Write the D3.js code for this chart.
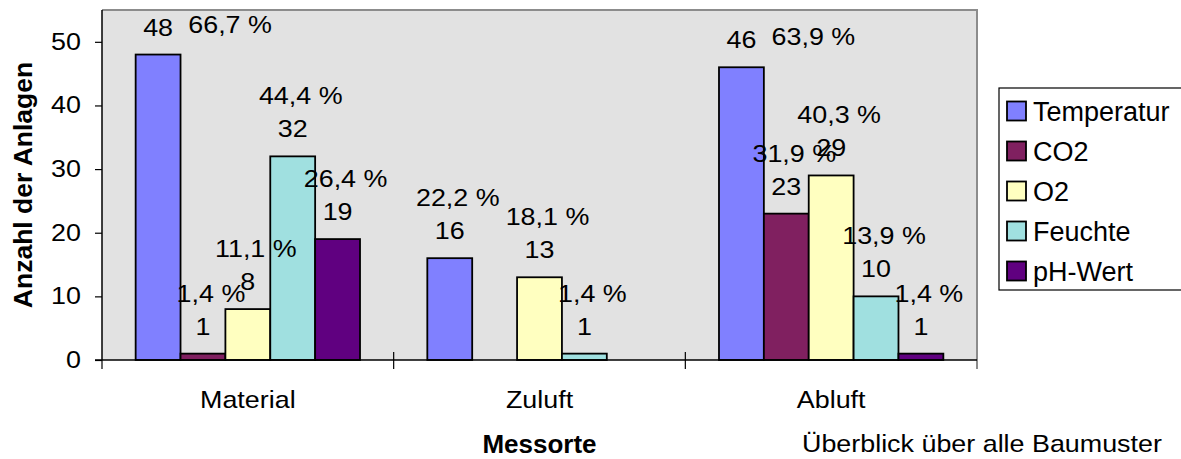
<!DOCTYPE html>
<html>
<head>
<meta charset="utf-8">
<script src="https://cdn.jsdelivr.net/npm/d3@7"></script>
<style>
  body { margin: 0; background: #fff; }
  text { font-family: Arial, "Liberation Sans", sans-serif; fill: #000; }
</style>
</head>
<body>
<div id="chart"></div>
<script>
// chart values
var categories = ["Material", "Zuluft", "Abluft"];
var seriesNames = ["Temperatur", "CO2", "O2", "Feuchte", "pH-Wert"];
var temperatur = [48, 16, 46];
var co2 = [1, 0, 23];
var o2 = [8, 13, 29];
var feuchte = [32, 1, 10];
var phWert = [19, 0, 1];
var temperaturPct = ["66,7 %", "22,2 %", "63,9 %"];
var co2Pct = ["1,4 %", "", "31,9 %"];
var o2Pct = ["11,1 %", "18,1 %", "40,3 %"];
var feuchtePct = ["44,4 %", "1,4 %", "13,9 %"];
var phWertPct = ["26,4 %", "", "1,4 %"];
var yTicks = [0, 10, 20, 30, 40, 50];
var colors = ["#8080ff", "#802060", "#ffffc0", "#a0e0e0", "#600080"];

var seriesValues = [temperatur, co2, o2, feuchte, phWert];
var seriesPct = [temperaturPct, co2Pct, o2Pct, feuchtePct, phWertPct];

var width = 1181, height = 459;
var plot = {left: 102, right: 977, top: 10, bottom: 360};
var sx = 1.12; // glyphs in the original are a bit wider than tall

var svg = d3.select("#chart").append("svg")
    .attr("width", width)
    .attr("height", height);

var x0 = d3.scaleBand().domain(categories).range([plot.left, plot.right]).padding(0);
var x1 = d3.scaleBand().domain(seriesNames).range([0, x0.bandwidth()])
    .paddingInner(0).paddingOuter(0.75);
var y = d3.scaleLinear().domain([0, 55]).range([plot.bottom, plot.top]);

// stretched text helper
function label(g, x, yy, str, anchor, size, weight) {
    return g.append("text")
        .attr("transform", "translate(" + x + "," + yy + ") scale(" + sx + ",1)")
        .attr("text-anchor", anchor)
        .style("font-size", size + "px")
        .style("font-weight", weight || "normal")
        .text(str);
}

// plot background + grey frame
svg.append("rect")
    .attr("x", plot.left).attr("y", plot.top)
    .attr("width", plot.right - plot.left).attr("height", plot.bottom - plot.top)
    .attr("fill", "#e2e2e2");
svg.append("path")
    .attr("d", "M" + plot.left + "," + plot.top + "H" + plot.right + "V" + (plot.bottom + 9))
    .attr("fill", "none").attr("stroke", "#8c8c8c").attr("stroke-width", 2);

// bars
var rows = [];
categories.forEach(function (c, ci) {
    seriesNames.forEach(function (s, si) {
        rows.push({cat: c, ser: s, si: si, v: seriesValues[si][ci], pct: seriesPct[si][ci]});
    });
});
var shown = rows.filter(function (d) { return d.v > 0; });

svg.append("g").selectAll("rect")
    .data(shown)
    .enter()
    .append("rect")
    .attr("x", function (d) { return x0(d.cat) + x1(d.ser); })
    .attr("y", function (d) { return y(d.v); })
    .attr("width", x1.bandwidth())
    .attr("height", function (d) { return y(0) - y(d.v); })
    .attr("fill", function (d) { return colors[d.si]; })
    .attr("stroke", "#000")
    .attr("stroke-width", 1.8);

// y axis
var yAxis = d3.axisLeft(y).tickValues(yTicks).tickSize(7).tickPadding(14);
var ga = svg.append("g").attr("transform", "translate(" + plot.left + ",0)").call(yAxis);
ga.select(".domain").attr("d", "M0," + plot.top + "V" + plot.bottom).attr("stroke", "#000").attr("stroke-width", 1.5);
ga.selectAll(".tick line").attr("stroke", "#000").attr("stroke-width", 1.2);
ga.selectAll(".tick text").remove();
yTicks.forEach(function (t) {
    label(svg, plot.left - 21, y(t) + 8, t, "end", 24);
});

// x axis
svg.append("line")
    .attr("x1", plot.left - 7).attr("x2", plot.right)
    .attr("y1", plot.bottom).attr("y2", plot.bottom)
    .attr("stroke", "#000").attr("stroke-width", 1.5);
var bounds = categories.map(function (c) { return x0(c); });
svg.append("g").selectAll("line")
    .data(bounds)
    .enter()
    .append("line")
    .attr("x1", function (d) { return d; }).attr("x2", function (d) { return d; })
    .attr("y1", function (d, i) { return i === 0 ? plot.bottom : plot.bottom - 8; })
    .attr("y2", plot.bottom + 9)
    .attr("stroke", "#000").attr("stroke-width", 1.2);
categories.forEach(function (c) {
    label(svg, x0(c) + x0.bandwidth() / 2, 408, c, "middle", 24);
});

// data labels (value, then percentage above)
var lg = svg.append("g");
shown.forEach(function (d) {
    var cx = x0(d.cat) + x1(d.ser) + x1.bandwidth() / 2;
    var vy = y(d.v) - 19;
    label(lg, cx, vy, d.v, "middle", 24);
    if (d.pct) {
        var py = vy - 33;
        if (py < 30) {
            label(lg, cx + 72, vy - 3, d.pct, "middle", 24);
        } else {
            label(lg, cx + 8, py, d.pct, "middle", 24);
        }
    }
});

// axis titles
svg.append("text")
    .attr("transform", "translate(32," + (plot.top + plot.bottom) / 2 + ") rotate(-90)")
    .attr("text-anchor", "middle")
    .style("font-size", "26.5px")
    .style("font-weight", "bold")
    .text("Anzahl der Anlagen");
svg.append("text")
    .attr("x", (plot.left + plot.right) / 2).attr("y", 453)
    .attr("text-anchor", "middle")
    .style("font-size", "26px")
    .style("font-weight", "bold")
    .text("Messorte");
label(svg, 802, 452, "Überblick über alle Baumuster", "start", 24);

// legend
var legend = svg.append("g").attr("transform", "translate(999,88)");
legend.append("rect")
    .attr("x", 0).attr("y", 0).attr("width", 200).attr("height", 202)
    .attr("fill", "#fff").attr("stroke", "#000").attr("stroke-width", 1.2);
var items = legend.selectAll("g.item")
    .data(seriesNames)
    .enter()
    .append("g")
    .attr("class", "item")
    .attr("transform", function (d, i) { return "translate(0," + (23 + i * 40) + ")"; });
items.append("rect")
    .attr("x", 8).attr("y", -9.5).attr("width", 19).attr("height", 19)
    .attr("fill", function (d, i) { return colors[i]; })
    .attr("stroke", "#000").attr("stroke-width", 1.8);
items.append("text")
    .attr("x", 34).attr("y", 9.5)
    .style("font-size", "27px")
    .text(function (d) { return d; });
</script>
</body>
</html>
